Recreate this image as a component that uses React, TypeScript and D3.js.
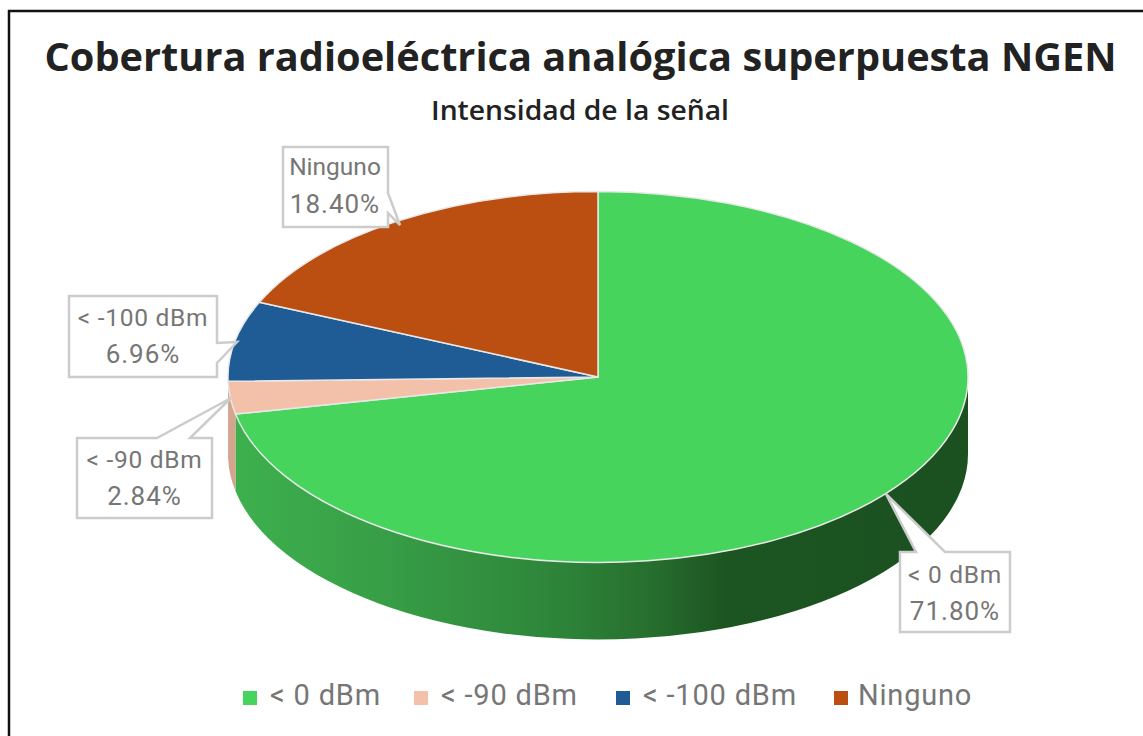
import React from "react";
import * as d3 from "d3";

const categories = ["< 0 dBm", "< -90 dBm", "< -100 dBm", "Ninguno"];
const percents = [71.8, 2.84, 6.96, 18.4];
const percentLabels = ["71.80%", "2.84%", "6.96%", "18.40%"];
const topColors = ["#47d45c", "#f3c1aa", "#1f5c96", "#bb4f12"];
const legendX = [243, 414, 616, 834];
const titleText = "Cobertura radioeléctrica analógica superpuesta NGEN";
const subtitleText = "Intensidad de la señal";

const cx = 598, cy = 377, rx = 370, ry = 185.5, depth = 77;
const gray = "#767676";
const box = "#cccccc";
const labelFont = "Roboto";

const slices = d3.pie<number>().sort(null).value((d) => d)(percents);
const unit = d3.scaleLinear().domain([0, 1]).range([0, 1]);
const ex = (t: number) => cx + rx * Math.sin(t);
const ey = (t: number) => cy - ry * Math.cos(t);

function ellipseArc(a0: number, a1: number) {
  const large = a1 - a0 > Math.PI ? 1 : 0;
  return `A${rx},${ry} 0 ${large} 1 ${ex(a1)},${ey(a1)}`;
}
function topPath(a0: number, a1: number) {
  return `M${cx},${cy}L${ex(a0)},${ey(a0)}${ellipseArc(a0, a1)}Z`;
}
function sidePath(a0: number, a1: number) {
  const s = Math.max(a0, Math.PI / 2);
  const e = Math.min(a1, (3 * Math.PI) / 2);
  const large = e - s > Math.PI ? 1 : 0;
  return `M${ex(s)},${ey(s)}A${rx},${ry} 0 ${large} 1 ${ex(e)},${ey(e)}L${ex(e)},${ey(e) + depth}A${rx},${ry} 0 ${large} 0 ${ex(s)},${ey(s) + depth}Z`;
}

const callouts = [
  { i: 0, pts: [[900, 552], [916, 552], [886, 494], [945, 552], [1010, 552], [1010, 632], [900, 632]], tx: 955, y1: 583, y2: 620 },
  { i: 1, pts: [[77, 438], [157, 438], [231, 398], [190, 438], [212, 438], [212, 518], [77, 518]], tx: 144.5, y1: 468, y2: 505 },
  { i: 2, pts: [[69, 296], [217, 296], [217, 343], [237, 342], [217, 363], [217, 377], [69, 377]], tx: 143, y1: 326, y2: 363 },
  { i: 3, pts: [[283, 147], [388, 147], [388, 193], [400, 225], [388, 213], [388, 227], [283, 227]], tx: 335, y1: 175, y2: 213 },
];

export default function App() {
  const line = d3.line();
  return (
    <svg width={1143} height={736} style={{ position: "absolute", left: 0, top: 0, background: "#fff" }}>
      <defs>
        <linearGradient id="wall" gradientUnits="userSpaceOnUse" x1={228} x2={968} y1={0} y2={0}>
          <stop offset={unit(0)} stopColor="#3db14e" />
          <stop offset={unit(0.2)} stopColor="#389f47" />
          <stop offset={unit(0.45)} stopColor="#2d8439" />
          <stop offset={unit(0.57)} stopColor="#276f2e" />
          <stop offset={unit(0.67)} stopColor="#1c5522" />
          <stop offset={unit(1)} stopColor="#1b5020" />
        </linearGradient>
      </defs>
      <path d="M9,736V11H1143" fill="none" stroke="#111" strokeWidth={2.5} />
      <text x={580.5} y={71} textAnchor="middle" fontFamily="'Open Sans'" fontWeight={700} fontSize={40} fill="#222" textLength={1072} lengthAdjust="spacingAndGlyphs">{titleText}</text>
      <text x={580} y={120} textAnchor="middle" fontFamily="'Open Sans'" fontWeight={600} fontSize={27} fill="#222" textLength={298} lengthAdjust="spacingAndGlyphs">{subtitleText}</text>

      {slices.map((s, i) =>
        s.endAngle > Math.PI / 2 && s.startAngle < (3 * Math.PI) / 2 ? (
          <path key={i} d={sidePath(s.startAngle, s.endAngle)} fill={i === 0 ? "url(#wall)" : "#d4a48d"} />
        ) : null
      )}
      {slices.map((s, i) => (
        <path key={i} d={topPath(s.startAngle, s.endAngle)} fill={topColors[i]} stroke="#e8e8e8" strokeWidth={1.5} strokeLinejoin="round" />
      ))}

      {callouts.map((c) => (
        <g key={c.i}>
          <path d={line(c.pts as [number, number][]) + "Z"} fill="#fff" stroke={box} strokeWidth={2.5} />
          <text x={c.tx} y={c.y1} textAnchor="middle" fontFamily={labelFont} fontSize={24.5} letterSpacing={c.i === 3 ? 0 : 0.7} fill={gray}>{categories[c.i]}</text>
          <text x={c.tx} y={c.y2} textAnchor="middle" fontFamily={labelFont} fontSize={26} letterSpacing={1} fill={gray}>{percentLabels[c.i]}</text>
        </g>
      ))}

      {categories.map((c, i) => (
        <g key={c}>
          <rect x={legendX[i]} y={691} width={14} height={14} fill={topColors[i]} />
          <text x={legendX[i] + (i === 3 ? 24 : 27)} y={705} fontFamily={labelFont} fontSize={29} letterSpacing={0.8} fill={gray}>{c}</text>
        </g>
      ))}
    </svg>
  );
}
